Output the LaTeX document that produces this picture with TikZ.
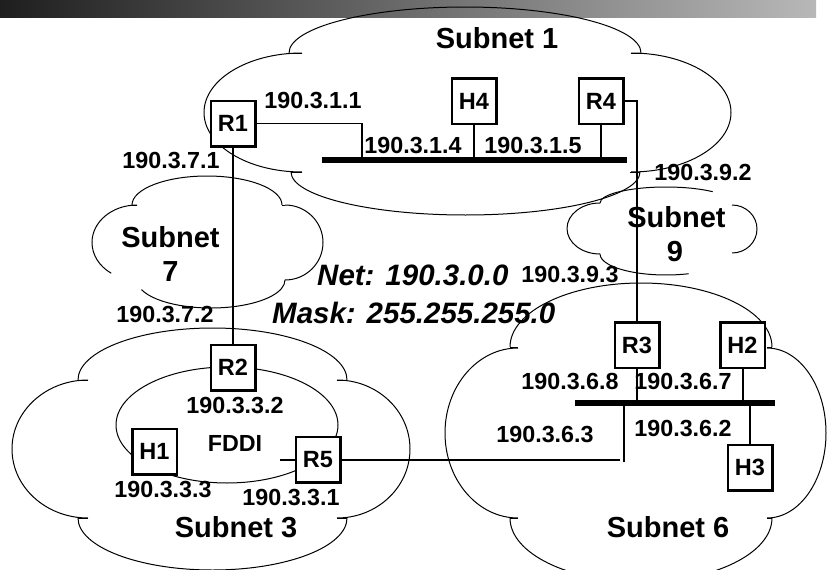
\documentclass[tikz,border=0pt]{standalone}
\usepackage{fontspec}
\setmainfont{Liberation Sans}
\newcommand\cloudarc[6]{\draw[cl] ({#1+#3*cos(#5)},{#2+#4*sin(#5)}) arc[start angle=#5,end angle=#6,x radius=#3,y radius=#4];}
\begin{document}
\begin{tikzpicture}[x=1pt,y=-1pt,
  box/.style={draw,line width=2.5pt,fill=white,minimum width=44.5pt,minimum height=45.5pt,inner sep=0pt,font=\fontsize{23.5}{26}\selectfont\bfseries},
  lbl/.style={inner sep=0pt,font=\fontsize{23.3}{26}\selectfont\bfseries},
  sub/.style={inner sep=0pt,font=\fontsize{29}{34}\selectfont\bfseries},
  netlbl/.style={inner sep=0pt,anchor=west,font=\fontsize{29.5}{34}\selectfont\bfseries\itshape},
  cl/.style={line width=1pt},
  ln/.style={line width=1.2pt},
  lnm/.style={line width=2pt},
  busln/.style={line width=6pt}]
\useasboundingbox (0,0) rectangle (828,570);
\clip (0,0) rectangle (828,570);
% top gradient bar
\shade[left color=black!88,right color=black!28] (0,0) rectangle (816,17);
% Subnet 1 cloud
\cloudarc{465}{53}{176}{46}{180}{360}
\cloudarc{302}{112.5}{98}{59.5}{270}{90}
\cloudarc{631}{112.5}{100}{59.5}{270}{450}
\cloudarc{465.5}{172}{174.5}{43}{180}{0}
\draw[cl] (289,53) -- (302,53) (631,53) -- (641,53) (291,172) -- (302,172) (630,172) -- (640,172);
% Subnet 7 cloud
\cloudarc{207}{205}{75}{29}{180}{360}
\cloudarc{137}{242.5}{45}{37.5}{270}{125}
\cloudarc{211}{280}{74}{28}{160}{0}
\cloudarc{285}{242.5}{38}{37.5}{270}{450}
\draw[cl] (132,205) -- (137,205) (282,205) -- (285,205);
% Subnet 9 cloud
\cloudarc{666}{203}{66}{16}{180}{315}
\cloudarc{600}{228.5}{33}{25.5}{270}{90}
\cloudarc{732}{229}{25}{24}{270}{450}
\cloudarc{666}{254}{66}{21}{180}{70}
% Subnet 3 cloud
\cloudarc{212.5}{380}{134.5}{52}{180}{360}
\cloudarc{88}{449}{76}{69}{270}{90}
\cloudarc{337}{449}{73}{69}{270}{450}
\cloudarc{212.5}{518}{134.5}{52}{180}{0}
\draw[cl] (78,380) -- (88,380) (337,380) -- (347,380) (78,518) -- (88,518) (337,518) -- (347,518);
% FDDI ring
\draw[cl] (227,425) ellipse[x radius=111,y radius=58];
% Subnet 6 cloud
\cloudarc{641}{347}{131}{64}{180}{360}
\cloudarc{518}{433}{73}{85}{270}{90}
\cloudarc{767}{433}{59}{85}{270}{450}
\cloudarc{641}{518}{131}{64}{180}{0}
\draw[cl] (510,347) -- (518,347) (767,347) -- (772,347) (510,518) -- (518,518) (767,518) -- (772,518);
% buses
\coordinate (b1l) at (322,160);
\coordinate (b1r) at (627,160);
\coordinate (b6l) at (575,403);
\coordinate (b6r) at (775,403);
\draw[busln] (b1l) -- (b1r);
\draw[busln] (b6l) -- (b6r);
% boxes
\node[box] (R1) at (233,123.5) {R1};
\node[box] (H4) at (474,101) {H4};
\node[box] (R4) at (601,101) {R4};
\node[box] (R2) at (233,367.5) {R2};
\node[box] (H1) at (154.5,451.5) {H1};
\node[box] (R5) at (318,459.5) {R5};
\node[box] (R3) at (637,345) {R3};
\node[box] (H2) at (742.5,345) {H2};
\node[box] (H3) at (750,467.5) {H3};
% connectors
\coordinate (t1) at (362,160);
\draw[ln] (R1.east) -| (t1);
\draw[ln] (H4.south) -- (H4.south |- b1l);
\draw[ln] (R4.south) -- (R4.south |- b1l);
\draw[lnm] (R4.east) -| (R3.north);
\draw[ln] (R1.south) -- (R2.north);
\draw[lnm] (R3.south) -- (R3.south |- b6l);
\draw[lnm] (H2.south) -- (H2.south |- b6l);
\draw[lnm] (H3.north) -- (H3.north |- b6l);
\coordinate (d6a) at (624,403);
\coordinate (d6b) at (624,462);
\draw[lnm] (d6a) -- (d6b);
\coordinate (e5) at (620,459.5);
\draw[lnm] (R5.east) -- (e5);
\coordinate (s5) at (280,459.5);
\draw[lnm] (s5) -- (R5.west);
% subnet labels
\node[sub] (ls1) at (497,38) {Subnet 1};
\node[sub] (ls7a) at (170.5,237) {Subnet};
\node[sub] (ls7b) at (170.5,272) {7};
\node[sub] (ls9a) at (676.5,217) {Subnet};
\node[sub] (ls9b) at (675,252) {9};
\node[sub] (ls3) at (236,527) {Subnet 3};
\node[sub] (ls6) at (668,527) {Subnet 6};
% address labels
\node[lbl] (a111) at (313,100) {190.3.1.1};
\node[lbl] (a114) at (413,145) {190.3.1.4};
\node[lbl] (a115) at (533,145) {190.3.1.5};
\node[lbl] (a171) at (171,160) {190.3.7.1};
\node[lbl] (a192) at (703,172) {190.3.9.2};
\node[lbl] (a193) at (570,274) {190.3.9.3};
\node[lbl] (a172) at (165,314) {190.3.7.2};
\node[lbl] (a332) at (235,405) {190.3.3.2};
\node[lbl] (fddi) at (235,443) {FDDI};
\node[lbl] (a333) at (163,489) {190.3.3.3};
\node[lbl] (a331) at (291,497) {190.3.3.1};
\node[lbl] (a368) at (570,381) {190.3.6.8};
\node[lbl] (a367) at (683,381) {190.3.6.7};
\node[lbl] (a363) at (545,434) {190.3.6.3};
\node[lbl] (a362) at (683,428) {190.3.6.2};
\node[netlbl] (net) at (317,275.5) {Net: 190.3.0.0};
\node[netlbl] (mask) at (272,312.5) {Mask: 255.255.255.0};
\end{tikzpicture}
\end{document}
